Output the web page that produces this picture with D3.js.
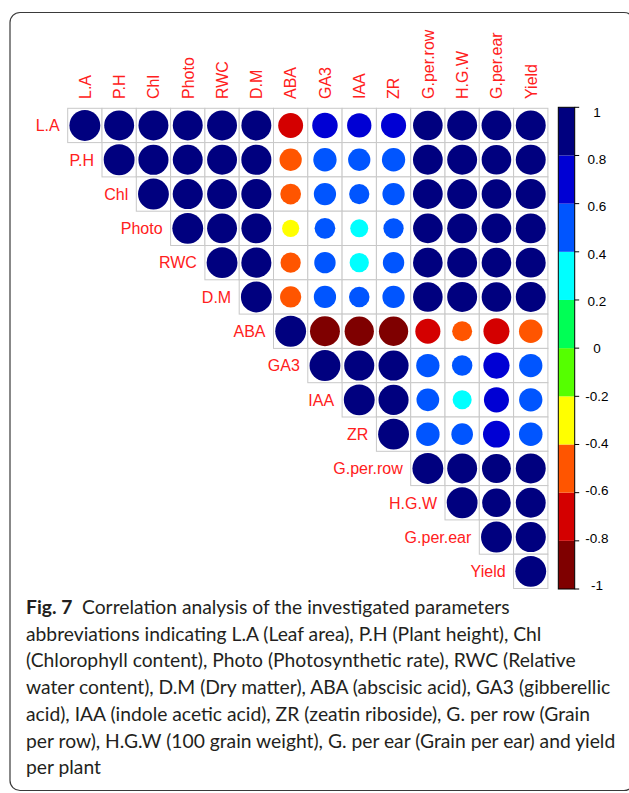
<!DOCTYPE html>
<html>
<head>
<meta charset="utf-8">
<script src="https://cdn.jsdelivr.net/npm/d3@7"></script>
<style>
  html, body { margin: 0; padding: 0; background: #fff; }
  svg { display: block; }
</style>
</head>
<body>
<svg id="chart" width="629" height="793"></svg>
<script>
// ---------------- DATA ----------------
const variables = ["L.A", "P.H", "Chl", "Photo", "RWC", "D.M", "ABA", "GA3", "IAA", "ZR",
                   "G.per.row", "H.G.W", "G.per.ear", "Yield"];

// Upper-triangle correlation values: row i holds columns i..13
const rowLA      = [1, 0.94, 0.94, 0.94, 0.94, 0.94, -0.65, 0.68, 0.62, 0.66, 0.92, 0.94, 0.93, 0.94];
const rowPH      = [1, 0.95, 0.94, 0.94, 0.95, -0.52, 0.57, 0.52, 0.57, 0.93, 0.94, 0.92, 0.94];
const rowChl     = [1, 0.95, 0.94, 0.95, -0.45, 0.52, 0.43, 0.52, 0.93, 0.94, 0.92, 0.94];
const rowPhoto   = [1, 0.94, 0.94, -0.31, 0.45, 0.34, 0.43, 0.92, 0.94, 0.92, 0.94];
const rowRWC     = [1, 0.95, -0.43, 0.48, 0.39, 0.48, 0.92, 0.94, 0.92, 0.94];
const rowDM      = [1, -0.47, 0.52, 0.44, 0.52, 0.92, 0.94, 0.92, 0.94];
const rowABA     = [1, -0.94, -0.90, -0.90, -0.66, -0.42, -0.71, -0.58];
const rowGA3     = [1, 0.95, 0.95, 0.57, 0.44, 0.72, 0.57];
const rowIAA     = [1, 0.95, 0.54, 0.38, 0.66, 0.57];
const rowZR      = [1, 0.58, 0.49, 0.76, 0.58];
const rowGperRow = [1, 0.94, 0.88, 0.94];
const rowHGW     = [1, 0.86, 0.94];
const rowGperEar = [1, 0.95];
const rowYield   = [1];
const corrRows = [rowLA, rowPH, rowChl, rowPhoto, rowRWC, rowDM, rowABA, rowGA3, rowIAA, rowZR,
                  rowGperRow, rowHGW, rowGperEar, rowYield];

// colour bins from -1 to 1
const binColors = ["#7F0000", "#D40000", "#FF5500", "#FFFF00", "#55FF00",
                   "#00FF55", "#00FFFF", "#0055FF", "#0000D4", "#00007F"];
const legendTicks = [1, 0.8, 0.6, 0.4, 0.2, 0, -0.2, -0.4, -0.6, -0.8, -1];
const legendTickLabels = ["1", "0.8", "0.6", "0.4", "0.2", "0", "-0.2", "-0.4", "-0.6", "-0.8", "-1"];

const captionBold = "Fig. 7";
const captionLines = [
  "Correlation analysis of the investigated parameters",
  "abbreviations indicating L.A (Leaf area), P.H (Plant height), Chl",
  "(Chlorophyll content), Photo (Photosynthetic rate), RWC (Relative",
  "water content), D.M (Dry matter), ABA (abscisic acid), GA3 (gibberellic",
  "acid), IAA (indole acetic acid), ZR (zeatin riboside), G. per row (Grain",
  "per row), H.G.W (100 grain weight), G. per ear (Grain per ear) and yield",
  "per plant"
];

// ---------------- LAYOUT ----------------
const svg = d3.select("#chart");
const gridX0 = 67.7, gridY0 = 108.3, cell = 34.3;
const n = variables.length;

const x = d3.scaleBand().domain(variables).range([gridX0, gridX0 + n * cell]).padding(0);
const y = d3.scaleBand().domain(variables).range([gridY0, gridY0 + n * cell]).padding(0);
const color = d3.scaleQuantize().domain([-1, 1]).range(binColors);
const radius = d3.scaleSqrt().domain([0, 1]).range([0, 0.45 * cell]);

// frame
svg.append("rect")
  .attr("x", 10).attr("y", 12.5).attr("width", 624).attr("height", 778)
  .attr("rx", 10).attr("ry", 10)
  .attr("fill", "none").attr("stroke", "#3a3a3a").attr("stroke-width", 1.2);

// cells
const cells = [];
corrRows.forEach((row, i) => {
  row.forEach((v, k) => {
    const j = i + k;
    cells.push({ r: variables[i], c: variables[j], v });
  });
});

const g = svg.append("g");
g.selectAll("rect.cell").data(cells).enter().append("rect")
  .attr("class", "cell")
  .attr("x", d => x(d.c)).attr("y", d => y(d.r))
  .attr("width", x.bandwidth()).attr("height", y.bandwidth())
  .attr("fill", "#fff").attr("stroke", "#c8c8c8").attr("stroke-width", 1);

g.selectAll("circle").data(cells).enter().append("circle")
  .attr("cx", d => x(d.c) + x.bandwidth() / 2)
  .attr("cy", d => y(d.r) + y.bandwidth() / 2)
  .attr("r", d => radius(Math.abs(d.v)))
  .attr("fill", d => color(Math.min(d.v, 0.9999)));

// row labels
svg.selectAll("text.rowlab").data(variables).enter().append("text")
  .attr("class", "rowlab")
  .attr("x", (d) => x(d) - 8)
  .attr("y", d => y(d) + y.bandwidth() / 2)
  .attr("dy", "0.36em")
  .attr("text-anchor", "end")
  .attr("font-family", "'Liberation Sans', Arial, sans-serif")
  .attr("font-size", 16)
  .attr("fill", "#FF2020")
  .text(d => d);

// column labels
svg.selectAll("text.collab").data(variables).enter().append("text")
  .attr("class", "collab")
  .attr("transform", d => `translate(${x(d) + x.bandwidth() / 2 + 5.8},99) rotate(-90)`)
  .attr("text-anchor", "start")
  .attr("font-family", "'Liberation Sans', Arial, sans-serif")
  .attr("font-size", 16)
  .attr("fill", "#FF2020")
  .text(d => d);

// colour legend
const barX = 558.3, barW = 16.4, barTop = 107.3, barBot = 589;
const legY = d3.scaleLinear().domain([1, -1]).range([barTop, barBot]);
const legLabY = d3.scaleLinear().domain([1, -1]).range([111.7, 585]);
const binEdges = d3.range(binColors.length).map(i => -1 + i * 2 / binColors.length);

svg.selectAll("rect.bin").data(binColors).enter().append("rect")
  .attr("class", "bin")
  .attr("x", barX)
  .attr("y", (d, i) => legY(binEdges[i] + 2 / binColors.length))
  .attr("width", barW)
  .attr("height", (d, i) => legY(binEdges[i]) - legY(binEdges[i] + 2 / binColors.length))
  .attr("fill", d => d);

svg.append("rect")
  .attr("x", barX).attr("y", barTop).attr("width", barW).attr("height", barBot - barTop)
  .attr("fill", "none").attr("stroke", "#000").attr("stroke-width", 1);

svg.selectAll("line.tick").data(legendTicks).enter().append("line")
  .attr("x1", barX + barW).attr("x2", barX + barW + 4.5)
  .attr("y1", d => legY(d)).attr("y2", d => legY(d))
  .attr("stroke", "#000").attr("stroke-width", 1);

svg.selectAll("text.leg").data(legendTicks).enter().append("text")
  .attr("x", 597)
  .attr("y", d => legLabY(d))
  .attr("dy", "0.36em")
  .attr("text-anchor", "middle")
  .attr("font-family", "'Liberation Sans', Arial, sans-serif")
  .attr("font-size", 13.5)
  .attr("fill", "#000")
  .text((d, i) => legendTickLabels[i]);

// caption
const capFont = "Lato, 'Open Sans', sans-serif";
const capX = 26, capBase0 = 614, capStep = 26.7;
const targetWidth = 610.5 - capX; // width of the 4th line
// measure to find font size
const probe = svg.append("text").attr("font-family", capFont).attr("font-size", 20)
  .text(captionLines[3]);
const probeW = probe.node().getComputedTextLength();
probe.remove();
const capSize = 20 * targetWidth / probeW;

captionLines.forEach((line, i) => {
  const t = svg.append("text")
    .attr("x", capX).attr("y", capBase0 + i * capStep)
    .attr("font-family", capFont).attr("font-size", capSize)
    .attr("fill", "#231F20");
  if (i === 0) {
    t.append("tspan").attr("font-weight", "bold").text(captionBold);
    t.append("tspan").attr("dx", capSize * 0.5).text(line);
  } else {
    t.text(line);
  }
});
</script>
</body>
</html>
